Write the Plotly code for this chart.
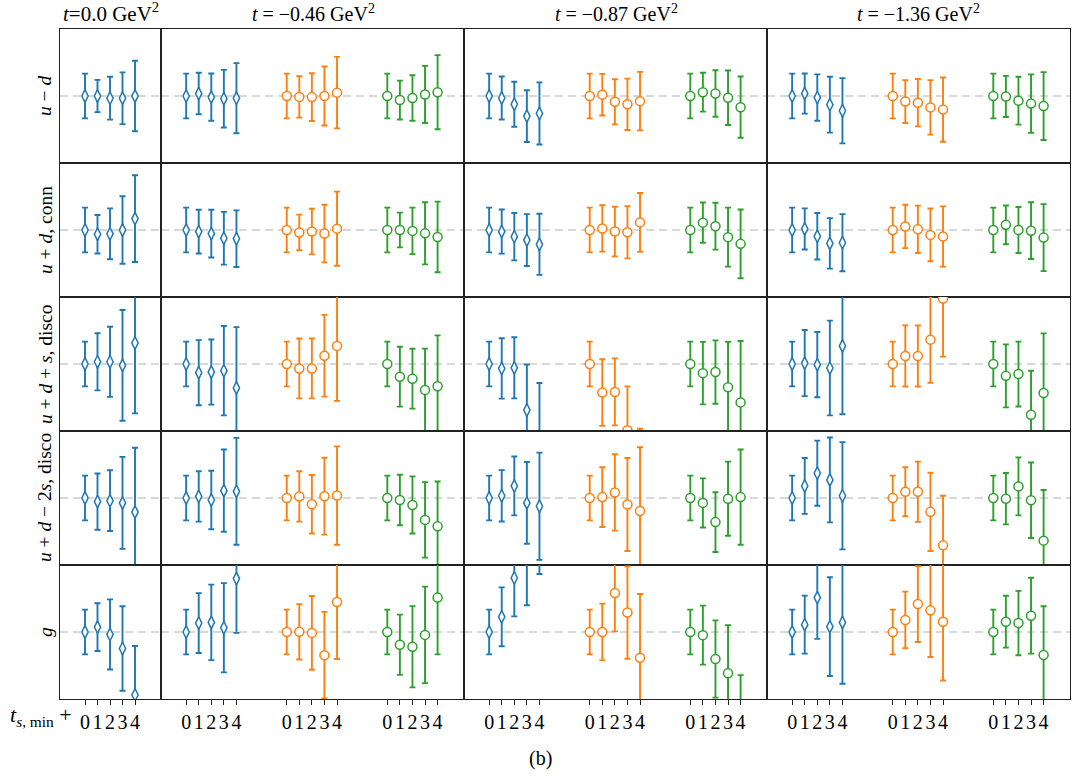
import plotly.graph_objects as go
from plotly.subplots import make_subplots

# ---------------- data ----------------
COL_TITLES = ["<i>t</i>=0.0 GeV<sup>2</sup>", "<i>t</i> = −0.46 GeV<sup>2</sup>",
              "<i>t</i> = −0.87 GeV<sup>2</sup>", "<i>t</i> = −1.36 GeV<sup>2</sup>"]
ROW_LABELS = ["<i>u</i> − <i>d</i>", "<i>u</i> + <i>d</i>, conn",
              "<i>u</i> + <i>d</i> + <i>s</i>, disco",
              "<i>u</i> + <i>d</i> − 2<i>s</i>, disco", "<i>g</i>"]
TS_OFFSETS = [0, 1, 2, 3, 4]
TICK_LABELS = ["0", "1", "2", "3", "4"]

# series order: t0 blue | t1 blue, orange, green | t2 blue, orange, green | t3 blue, orange, green
UMD_VAL = [[0, 0, -0.1, -0.1, 0],
           [0, 0.11, -0.05, -0.12, -0.1], [0, -0.04, -0.05, 0, 0.15], [0, -0.18, -0.09, 0.07, 0.17],
           [0, -0.09, -0.37, -0.9, -0.78], [0, 0.06, -0.26, -0.37, -0.23], [0, 0.17, 0.11, -0.08, -0.5],
           [0, 0.11, -0.07, -0.39, -0.66], [0, -0.25, -0.3, -0.51, -0.61], [0, -0.02, -0.21, -0.34, -0.45]]
UMD_ERR = [[1, 0.72, 0.96, 1.16, 1.58],
           [1, 0.93, 1.06, 1.29, 1.57], [1, 0.93, 1.07, 1.32, 1.6], [1, 0.87, 1.02, 1.28, 1.66],
           [1, 0.96, 1.01, 1.16, 1.39], [1, 0.93, 1.01, 1.15, 1.31], [1, 0.87, 1.04, 1.22, 1.37],
           [1, 0.9, 1.04, 1.25, 1.46], [1, 0.96, 1.06, 1.22, 1.44], [1, 0.92, 1.07, 1.31, 1.52]]

CONN_VAL = [[0, -0.19, -0.17, 0, 0.51],
            [0, -0.07, -0.16, -0.37, -0.39], [0, -0.11, -0.07, -0.16, 0.06], [0, 0, -0.04, -0.15, -0.31],
            [0, -0.07, -0.3, -0.45, -0.64], [0, 0.07, -0.07, -0.1, 0.34], [0, 0.33, 0.17, -0.32, -0.62],
            [0, 0.05, -0.28, -0.6, -0.57], [0, 0.16, 0.03, -0.22, -0.29], [0, 0.23, 0, -0.03, -0.34]]
CONN_ERR = [[1, 0.86, 1.14, 1.51, 1.94],
            [1, 0.98, 1.07, 1.18, 1.27], [1, 0.8, 1.02, 1.29, 1.66], [1, 0.78, 1.04, 1.39, 1.58],
            [1, 0.99, 1.06, 1.16, 1.37], [1, 1.04, 1.11, 1.17, 1.32], [1, 0.9, 1.05, 1.32, 1.54],
            [1, 0.92, 1.04, 1.13, 1.28], [1, 0.97, 1.06, 1.18, 1.35], [1, 0.87, 1.03, 1.27, 1.5]]

UDS_VAL = [[0, 0.1, 0.1, -0.06, 0.94],
           [0, -0.39, -0.36, -0.3, -1.07], [0, -0.2, -0.2, 0.37, 0.81], [0, -0.57, -0.66, -1.16, -1.0],
           [0, -0.2, -0.17, -2.06, -3.3], [0, -1.28, -1.25, -2.97, -4.5], [0, -0.41, -0.36, -1.04, -1.72],
           [0, 0.04, -0.03, -0.18, 0.81], [0, 0.36, 0.36, 1.09, 2.93], [0, -0.53, -0.45, -2.27, -1.3]]
UDS_ERR = [[1, 1.28, 1.57, 2.48, 3.15],
           [1, 1.46, 1.46, 2.0, 2.72], [1, 1.34, 1.34, 1.83, 2.46], [1, 1.34, 1.34, 1.85, 2.28],
           [1, 1.35, 1.37, 2.04, 2.45], [1, 1.49, 1.5, 1.97, 1.6], [1, 1.4, 1.42, 2.03, 2.75],
           [1, 1.48, 1.46, 2.12, 3.06], [1, 1.37, 1.37, 1.93, 2.6], [1, 1.41, 1.45, 1.97, 2.67]]

UD2S_VAL = [[0, -0.16, -0.12, -0.22, -0.63],
            [0, 0.07, -0.09, 0.33, 0.3], [0, 0.07, -0.28, 0.08, 0.11], [0, -0.09, -0.31, -0.98, -1.27],
            [0, 0.1, 0.54, -0.22, -0.37], [0, 0.04, 0.25, -0.29, -0.58], [0, -0.22, -1.08, -0.03, 0.04],
            [0, 0.54, 1.11, 0.81, 0.1], [0, 0.28, 0.28, -0.62, -2.12], [0, -0.03, 0.52, -0.1, -1.91]]
UD2S_ERR = [[1, 1.26, 1.36, 2.06, 2.88],
            [1, 1.13, 1.31, 1.84, 2.39], [1, 1.13, 1.31, 1.72, 2.2], [1, 1.13, 1.28, 1.69, 2.01],
            [1, 1.15, 1.32, 1.83, 2.4], [1, 1.34, 1.71, 2.08, 2.85], [1, 1.1, 1.34, 1.66, 2.13],
            [1, 1.25, 1.46, 1.9, 2.4], [1, 1.1, 1.35, 1.75, 2.22], [1, 1.15, 1.3, 1.69, 2.27]]

G_VAL = [[0, 0.22, -0.11, -0.74, -2.82],
         [0, 0.4, 0.43, 0.19, 2.39], [0, 0.01, -0.04, -1.04, 1.34], [0, -0.57, -0.66, -0.13, 1.54],
         [0, 0.68, 2.42, 3.2, 4.5], [0, 0, 1.75, 0.87, -1.15], [0, -0.14, -1.21, -1.85, -4.2],
         [0, 0.33, 1.54, 0.24, 0.43], [0, 0.54, 1.25, 0.97, 0.46], [0, 0.46, 0.4, 0.73, -1.03]]
G_ERR = [[1, 1.07, 1.57, 1.89, 2.19],
         [1, 1.34, 1.69, 2.0, 2.43], [1, 1.24, 1.65, 1.94, 2.55], [1, 1.35, 1.82, 2.16, 2.54],
         [1, 1.32, 1.72, 2.0, 1.9], [1, 1.27, 1.72, 2.07, 2.85], [1, 1.32, 1.73, 2.15, 2.27],
         [1, 1.3, 1.85, 2.21, 2.75], [1, 1.27, 1.7, 2.09, 2.63], [1, 1.16, 1.44, 1.7, 2.18]]

ROW_VALS = [UMD_VAL, CONN_VAL, UDS_VAL, UD2S_VAL, G_VAL]
ROW_ERRS = [UMD_ERR, CONN_ERR, UDS_ERR, UD2S_ERR, G_ERR]

# ---------------- style ----------------
COLORS = ["#1f77b4", "#ff7f0e", "#2ca02c"]
SYMBOLS = ["diamond-tall", "circle", "circle"]
SIZES = [9, 9, 9]
GROUP_SHIFT = 8
FONT = "Liberation Serif"

fig = make_subplots(rows=5, cols=4, column_widths=[1, 3, 3, 3],
                    horizontal_spacing=0, vertical_spacing=0)

for r in range(5):
    idx = 0
    for c in range(4):
        ngroups = 1 if c == 0 else 3
        for g in range(ngroups):
            xs = [t + GROUP_SHIFT * g for t in TS_OFFSETS]
            fig.add_trace(go.Scatter(
                x=xs, y=ROW_VALS[r][idx], mode="markers", showlegend=False,
                marker=dict(symbol=SYMBOLS[g], size=SIZES[g], color="white",
                            line=dict(color=COLORS[g], width=1.5)),
                error_y=dict(type="data", array=ROW_ERRS[r][idx], color=COLORS[g],
                             thickness=1.9, width=3),
            ), row=r + 1, col=c + 1)
            idx += 1

fig.update_xaxes(showline=True, mirror=True, linecolor="#222", linewidth=1,
                 showgrid=False, zeroline=False, ticks="", showticklabels=False)
fig.update_yaxes(showline=True, mirror=True, linecolor="#222", linewidth=1,
                 showgrid=False, zeroline=False, ticks="", showticklabels=False,
                 range=[-3, 3])
for c in range(4):
    if c == 0:
        rng, tv, tt = [-2, 6.08], TS_OFFSETS, TICK_LABELS
    else:
        rng = [-2, 22.1]
        tv = [t + GROUP_SHIFT * g for g in range(3) for t in TS_OFFSETS]
        tt = TICK_LABELS * 3
    fig.update_xaxes(range=rng, col=c + 1)
    fig.update_xaxes(ticks="outside", ticklen=5, tickwidth=1, tickcolor="#222",
                     showticklabels=True, tickvals=tv, ticktext=tt,
                     tickfont=dict(family=FONT, size=20, color="black"),
                     row=5, col=c + 1)

fig.add_hline(y=0, line_dash="8px,5px", line_color="#cccccc", line_width=1.5,
              layer="below", row="all", col="all")

W, H = 1077, 779
ML, MR, MT, MB = 60, 7, 29, 80
PW, PH = W - ML - MR, H - MT - MB


def px_to_paper(xp, yp):
    return (xp - ML) / PW, 1 - (yp - MT) / PH


anns = []
for c, cx in enumerate([110.5, 313, 616, 918]):
    x, y = px_to_paper(cx, 13)
    anns.append(dict(text=COL_TITLES[c], x=x, y=y, xref="paper", yref="paper",
                     showarrow=False, xanchor="center", yanchor="middle",
                     font=dict(family=FONT, size=21 if c == 0 else 20, color="black")))
for r in range(5):
    x, y = px_to_paper(45, 96 + 134 * r)
    anns.append(dict(text=ROW_LABELS[r], x=x, y=y, xref="paper", yref="paper",
                     showarrow=False, xanchor="center", yanchor="middle", textangle=-90,
                     font=dict(family=FONT, size=19.5, color="black")))
x, y = px_to_paper(74, 716)
anns.append(dict(text="<i>t</i><sub><i>s</i>, min</sub> +", x=x, y=y, xref="paper", yref="paper",
                 showarrow=False, xanchor="right", yanchor="middle",
                 font=dict(family=FONT, size=22, color="black")))
x, y = px_to_paper(540, 758)
anns.append(dict(text="(b)", x=x, y=y, xref="paper", yref="paper",
                 showarrow=False, xanchor="center", yanchor="middle",
                 font=dict(family=FONT, size=20, color="black")))

fig.update_layout(width=W, height=H, margin=dict(l=ML, r=MR, t=MT, b=MB),
                  paper_bgcolor="white", plot_bgcolor="white", annotations=anns,
                  font=dict(family=FONT, color="black"))

fig.write_html("out.html")
